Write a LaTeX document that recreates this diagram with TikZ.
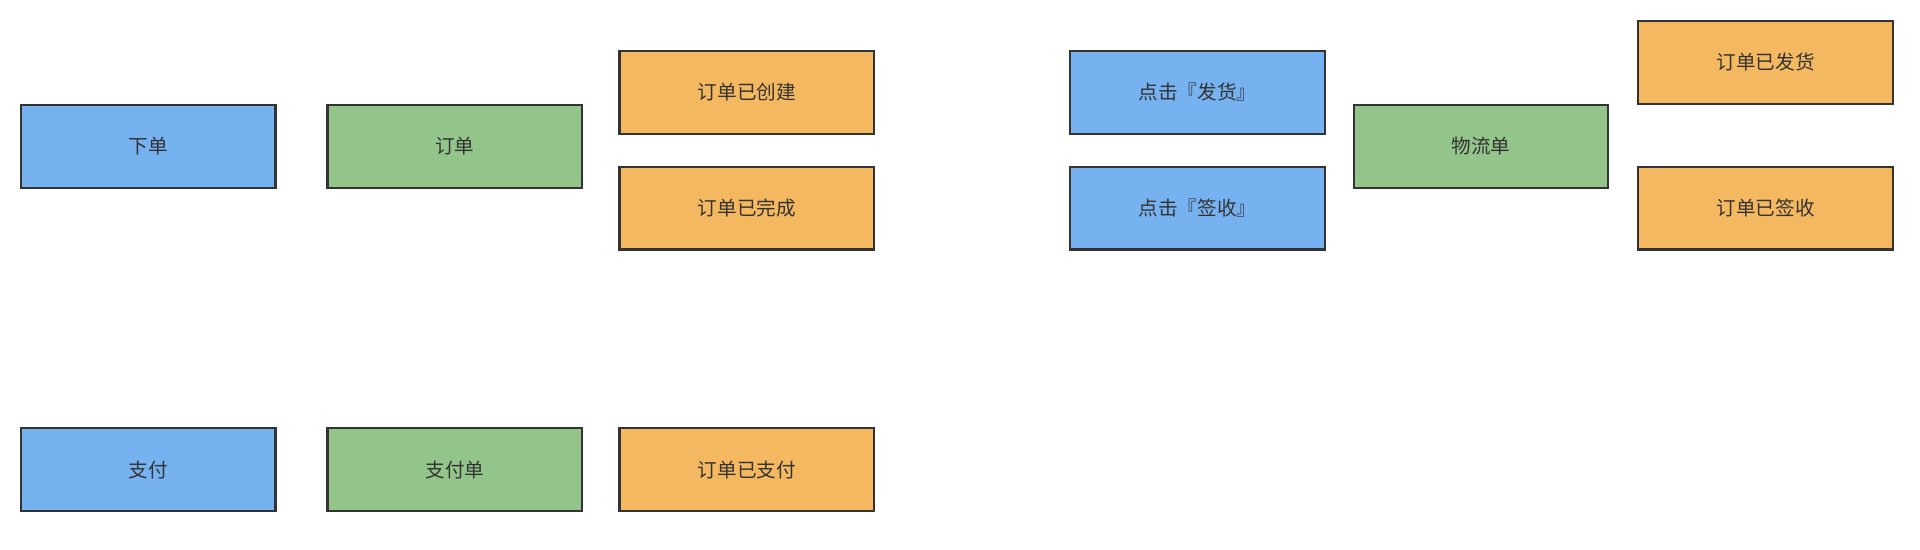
\documentclass[tikz,border=0pt]{standalone}
\usepackage{fontspec}
\setmainfont{Noto Sans CJK SC}
\definecolor{bluefill}{HTML}{76B2F0}
\definecolor{greenfill}{HTML}{93C58A}
\definecolor{orangefill}{HTML}{F4B860}
\definecolor{edge}{HTML}{333333}
\tikzset{
  box/.style={draw=edge, line width=1.8pt, minimum width=208pt, minimum height=67.5pt,
    inner sep=0pt, font=\fontsize{16pt}{19pt}\selectfont, text=edge, anchor=center},
  actionbox/.style={box, fill=bluefill},
  entitybox/.style={box, fill=greenfill},
  eventbox/.style={box, fill=orangefill}
}
\begin{document}
\begin{tikzpicture}[x=1pt,y=-1pt]
\useasboundingbox (0,0) rectangle (1568,449);
\node[actionbox] (xiadan) at (121,119.5) {下单};
\node[entitybox] (dingdan) at (371.5,119.5) {订单};
\node[eventbox] (created) at (610,75.5) {订单已创建};
\node[eventbox] (done) at (610,170) {订单已完成};
\node[actionbox] (fahuo) at (978,75.5) {点击『发货』};
\node[actionbox] (qianshou) at (978,170) {点击『签收』};
\node[entitybox] (wuliu) at (1209.5,119.5) {物流单};
\node[eventbox] (shipped) at (1442,51) {订单已发货};
\node[eventbox] (signed) at (1442,170) {订单已签收};
\node[actionbox] (zhifu) at (121,383.5) {支付};
\node[entitybox] (zhifudan) at (371.5,383.5) {支付单};
\node[eventbox] (paid) at (610,383.5) {订单已支付};
\end{tikzpicture}
\end{document}
